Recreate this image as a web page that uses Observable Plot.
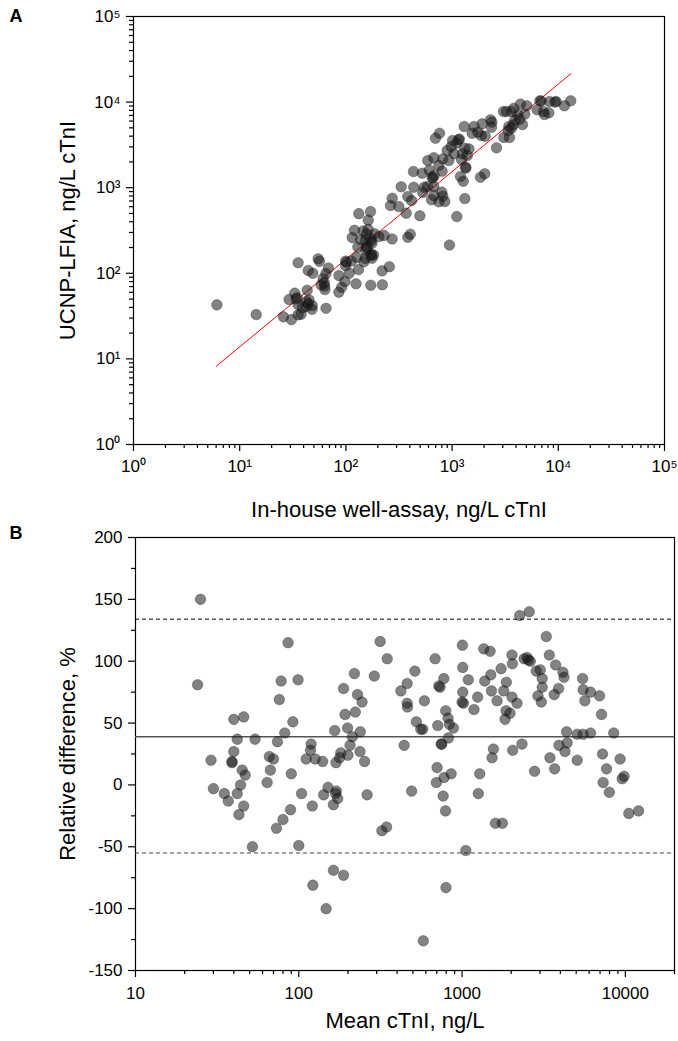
<!DOCTYPE html>
<html>
<head>
<meta charset="utf-8">
<script src="https://cdn.jsdelivr.net/npm/d3@7"></script>
<script src="https://cdn.jsdelivr.net/npm/@observablehq/plot@0.6"></script>
<style>
  html, body { margin: 0; padding: 0; background: #fff; }
  #chart { width: 678px; }
  #chart svg { display: block; }
</style>
</head>
<body>
<div id="chart"></div>
<script>
// ---------------- Panel A data: [in-house well-assay, UCNP-LFIA] (ng/L) ----------------
const panelAPairs = [
  [6.1,42.8],[14.3,33],[25.8,31],[30.7,28.8],[29.2,49.4],[33,58.6],[34.8,51.7],[35.4,43.2],
  [42.6,46.9],[42.3,40.9],[39,39.5],[35.5,32.7],[37.9,33.3],[43.2,63.5],[48.2,42],
  [35.5,133],[44.2,108],[48.8,100],[56.4,138],[54.8,148],[44,44],[45,49],[48,38],[34,50],
  [65,39],[63.4,64.6],[63,71],[58.4,73.6],[62.6,77.4],[85.8,60.2],[91.2,68.8],[61,87],
  [64.8,99.2],[68.5,115.5],[86,94],[97.9,80.1],[124.5,75.5],[107.6,100.4],[99.3,122.7],
  [99.4,138.6],[101.5,134.5],[112.8,139.2],[131.3,110.7],[171.4,72.6],[126.7,153.3],
  [147.7,136.3],[152.5,149.5],[220.5,73.5],[174.3,165.8],[173.9,162.1],[182.5,163.5],
  [176,150],[219.2,106.8],[256.6,119.4],[129.5,202.5],[153.8,184.2],[158.4,197.6],
  [157.5,204.5],[114.7,261.3],[137.3,246.7],[153.2,244.8],[173,239],[176,224],[171.5,254.5],
  [156.5,287.5],[120.5,317.5],[145.4,312.6],[162.3,325.7],[186.8,289.2],[205,269],[229,277],
  [272.5,251.5],[162.4,417.6],[132.3,497.7],[170.5,525.5],[382.8,263.2],[403.7,286.4],[944,214],
  [590,2080],[433,1546],[523,1478],[610,1600],[332,1024],[435,1014],[530,879],[273,754],
  [383,789],[263,620],[315,603],[415,708],[370,504],[497,470],
  [587,1033],[546,1014],[673,1033],[13100,10360],[11430,9050],[9550,10160],[9300,10000],
  [8260,10160],[6700,10350],[6900,10300],[6320,8130],[7260,7770],[7420,7170],[8140,7500],
  [4400,9460],[5050,9060],[3810,8490],[3630,7770],[3250,7770],[3050,7770],[4160,7110],
  [4830,7220],[3890,6150],[4600,5470],[4310,6310],[3420,5190],[3630,4960],[3760,5430],
  [3070,3860],[3470,3860],[3370,4660],[2620,2930],[2300,6210],[2370,5830],[2350,5090],
  [1920,5570],[1610,5190],[1300,5190],[1546,4330],[1880,4070],[2050,4000],[1750,4450],
  [1150,3630],[1170,3700],[1100,3310],[980,3020],[1320,2890],[1440,2840],[1250,2490],
  [1390,2380],[1225,2140],[1040,2490],[698,3790],[761,4330],[899,2720],[1010,3560],
  [673,2240],[818,2170],[750,1820],[806,1560],[931,2080],[649,1327],[660,1300],[678,1390],
  [800,887],[818,796],[854,690],[750,684],[673,811],[640,722],[1200,1352],[1273,1191],
  [1337,1738],[1350,1700],[1318,748],[1107,461],[1850,1327],[2030,1453]
];
// regression line end points
const regLineX = [6, 13100];
const regLineY = [8.2, 21400];

// ---------------- Panel B data: [mean cTnI (ng/L), relative difference (%)] ----------------
const panelBPairs = [
  [25,150],[24,81],[29,20],[30,-3],[35,-7],[37,-13],[40,53],[46,55],[42,37],[40,27],[39,19],
  [39,18],[45,12],[47,8],[44,0],[42,-7],[46,-17],[43,-24],[52,-50],[54,37],[64,2],[67,12],
  [66,23],[70,21],[73,-35],[80,-28],[74,35],[76,69],[78,84],[82,42],[86,115],[92,51],[90,9],
  [89,-20],[99,85],[100,-49],[104,-7],[111,21],[119,33],[118,28],[126,21],[121,-17],[122,-81],
  [140,19],[142,-8],[151,-2],[147,-100],[170,-5],[168,-7],[173,-11],[163,-16],[163,-69],
  [188,-73],[166,44],[169,18],[178,22],[181,26],[188,78],[192,57],[199,46],[206,32],[200,24],
  [213,39],[222,59],[219,90],[229,73],[244,67],[238,43],[237,27],[253,19],[262,-8],[290,88],
  [315,116],[348,102],[323,-37],[345,-34],
  [422,76],[461,82],[514,92],[461,66],[463,63],[588,68],[442,32],[525,51],[559,45],[575,45],
  [491,-5],[579,-126],[684,102],[773,86],[733,79],[720,80],[710,48],[794,60],[821,54],[836,49],
  [885,46],[825,38],[751,33],[745,33],[703,14],[776,6],[696,2],[857,9],[766,-9],[792,-21],[797,-83],
  [1005,113],[1010,95],[1092,85],[1010,75],[1019,66],[1000,67],[1183,61],[1246,71],[1054,-53],
  [1257,-7],[1283,9],[1357,110],[1484,108],[1377,84],[1500,89],[1514,76],[1638,68],[1733,94],
  [1867,83],[1800,76],[2022,71],[2170,66],[1860,60],[1966,58],[1833,53],[2022,105],[2033,98],
  [2253,137],[2579,140],[2400,102],[2500,103],[2550,101],[2618,100],[2847,92],[3012,93],
  [3097,86],[3097,79],[2916,72],[3057,67],[3279,120],[3422,105],[3742,97],[4150,91],[4209,87],
  [3900,78],[3669,73],[5470,86],[5520,77],[6120,75],[5650,68],[6950,72],[7150,57],[4366,43],
  [5070,41],[5520,41],[6120,42],[8490,42],[4400,34],[3920,32],[4270,27],[3452,22],[3690,13],
  [2780,11],[5070,20],[7250,25],[7670,13],[9290,21],[9830,7],[9560,5],[7310,2],[2043,28],
  [2328,33],[1556,29],[1527,22],[1600,-31],[1766,-31],[7980,-6],[10500,-23],[12050,-21]
];
const meanDiff = 39;
const loaUpper = 134;
const loaLower = -55;

// ---------------- Axis ticks & labels ----------------
const aDecades = [1, 10, 100, 1000, 10000, 100000];
const aDecadeLabels = ["10\u2070", "10\u00B9", "10\u00B2", "10\u00B3", "10\u2074", "10\u2075"];
const aMinor = [1, 10, 100, 1000, 10000].flatMap(b => [2,3,4,5,6,7,8,9].map(k => k * b));
const bTicksX = [10, 100, 1000, 10000];
const bTickLabelsX = ["10", "100", "1000", "10000"];
const bMinorX = [10, 100, 1000].flatMap(b => [2,3,4,5,6,7,8,9].map(k => k * b)).concat([20000]);
const bTicksY = [-150, -100, -50, 0, 50, 100, 150, 200];
const bMinorY = [-125, -75, -25, 25, 75, 125, 175];

const aXTitle = "In-house well-assay, ng/L cTnI";
const aYTitle = "UCNP-LFIA, ng/L cTnI";
const bXTitle = "Mean cTnI, ng/L";
const bYTitle = "Relative difference, %";

const font = "'Liberation Sans', Arial, Helvetica, sans-serif";
const titleSize = 22;
const dotStyle = {r: 5.3, fill: "#1c1c1c", fillOpacity: 0.55, stroke: "#000", strokeOpacity: 0.35, strokeWidth: 0.8};
const regLine = regLineX.map((x, i) => ({x, y: regLineY[i]}));

const plotA = Plot.plot({
  width: 678, height: 522,
  marginLeft: 133, marginRight: 14, marginTop: 16, marginBottom: 78,
  style: {fontFamily: font, fontSize: "17px", color: "#000", background: "#fff", overflow: "visible"},
  x: {type: "log", domain: [1, 1e5]},
  y: {type: "log", domain: [1, 1e5]},
  marks: [
    Plot.axisX(aMinor, {tickSize: 4, strokeWidth: 1.2, tickFormat: () => "", label: null}),
    Plot.axisX(aDecades, {tickSize: 7, strokeWidth: 1.2, tickPadding: 8, label: null,
      tickFormat: d => aDecadeLabels[aDecades.indexOf(d)]}),
    Plot.axisY(aMinor, {tickSize: 4, strokeWidth: 1.2, tickFormat: () => "", label: null}),
    Plot.axisY(aDecades, {tickSize: 7, strokeWidth: 1.2, tickPadding: 6, label: null,
      tickFormat: d => aDecadeLabels[aDecades.indexOf(d)]}),
    Plot.frame({stroke: "#000", strokeWidth: 1.2}),
    Plot.line(regLine, {x: "x", y: "y", stroke: "#ff0000", strokeWidth: 1}),
    Plot.dot(panelAPairs, {x: d => d[0], y: d => d[1], ...dotStyle}),
    Plot.text([aXTitle], {text: d => d, frameAnchor: "bottom", dy: 65, textAnchor: "middle", lineAnchor: "middle", fontSize: titleSize}),
    Plot.text([aYTitle], {text: d => d, frameAnchor: "left", dx: -66, rotate: -90, textAnchor: "middle", lineAnchor: "middle", fontSize: titleSize}),
    Plot.text(["A"], {text: d => d, frameAnchor: "top-left", dx: -124, dy: 0, textAnchor: "start", lineAnchor: "middle", fontSize: 18, fontWeight: "bold"})
  ]
});

const plotB = Plot.plot({
  width: 678, height: 519,
  marginLeft: 135, marginRight: 4, marginTop: 15, marginBottom: 71,
  style: {fontFamily: font, fontSize: "17px", color: "#000", background: "#fff", overflow: "visible"},
  x: {type: "log", domain: [10, 20000]},
  y: {type: "linear", domain: [-150, 200]},
  marks: [
    Plot.axisX(bMinorX, {tickSize: 4, strokeWidth: 1.2, tickFormat: () => "", label: null}),
    Plot.axisX(bTicksX, {tickSize: 7, strokeWidth: 1.2, tickPadding: 9, label: null,
      tickFormat: d => bTickLabelsX[bTicksX.indexOf(d)]}),
    Plot.axisY(bMinorY, {tickSize: 4, strokeWidth: 1.2, tickFormat: () => "", label: null}),
    Plot.axisY(bTicksY, {tickSize: 7, strokeWidth: 1.2, tickPadding: 6, label: null,
      tickFormat: d => String(d)}),
    Plot.frame({stroke: "#000", strokeWidth: 1.2}),
    Plot.ruleY([meanDiff], {stroke: "#555", strokeWidth: 1.6}),
    Plot.ruleY([loaUpper], {stroke: "#000", strokeWidth: 1, strokeDasharray: "4,3"}),
    Plot.ruleY([loaLower], {stroke: "#444", strokeWidth: 1, strokeDasharray: "4,3"}),
    Plot.dot(panelBPairs, {x: d => d[0], y: d => d[1], ...dotStyle}),
    Plot.text([bXTitle], {text: d => d, frameAnchor: "bottom", dy: 50, textAnchor: "middle", lineAnchor: "middle", fontSize: titleSize}),
    Plot.text([bYTitle], {text: d => d, frameAnchor: "left", dx: -68, rotate: -90, textAnchor: "middle", lineAnchor: "middle", fontSize: titleSize}),
    Plot.text(["B"], {text: d => d, frameAnchor: "top-left", dx: -126, dy: -4, textAnchor: "start", lineAnchor: "middle", fontSize: 18, fontWeight: "bold"})
  ]
});

const chart = document.getElementById("chart");
chart.appendChild(plotA);
chart.appendChild(plotB);
</script>
</body>
</html>
